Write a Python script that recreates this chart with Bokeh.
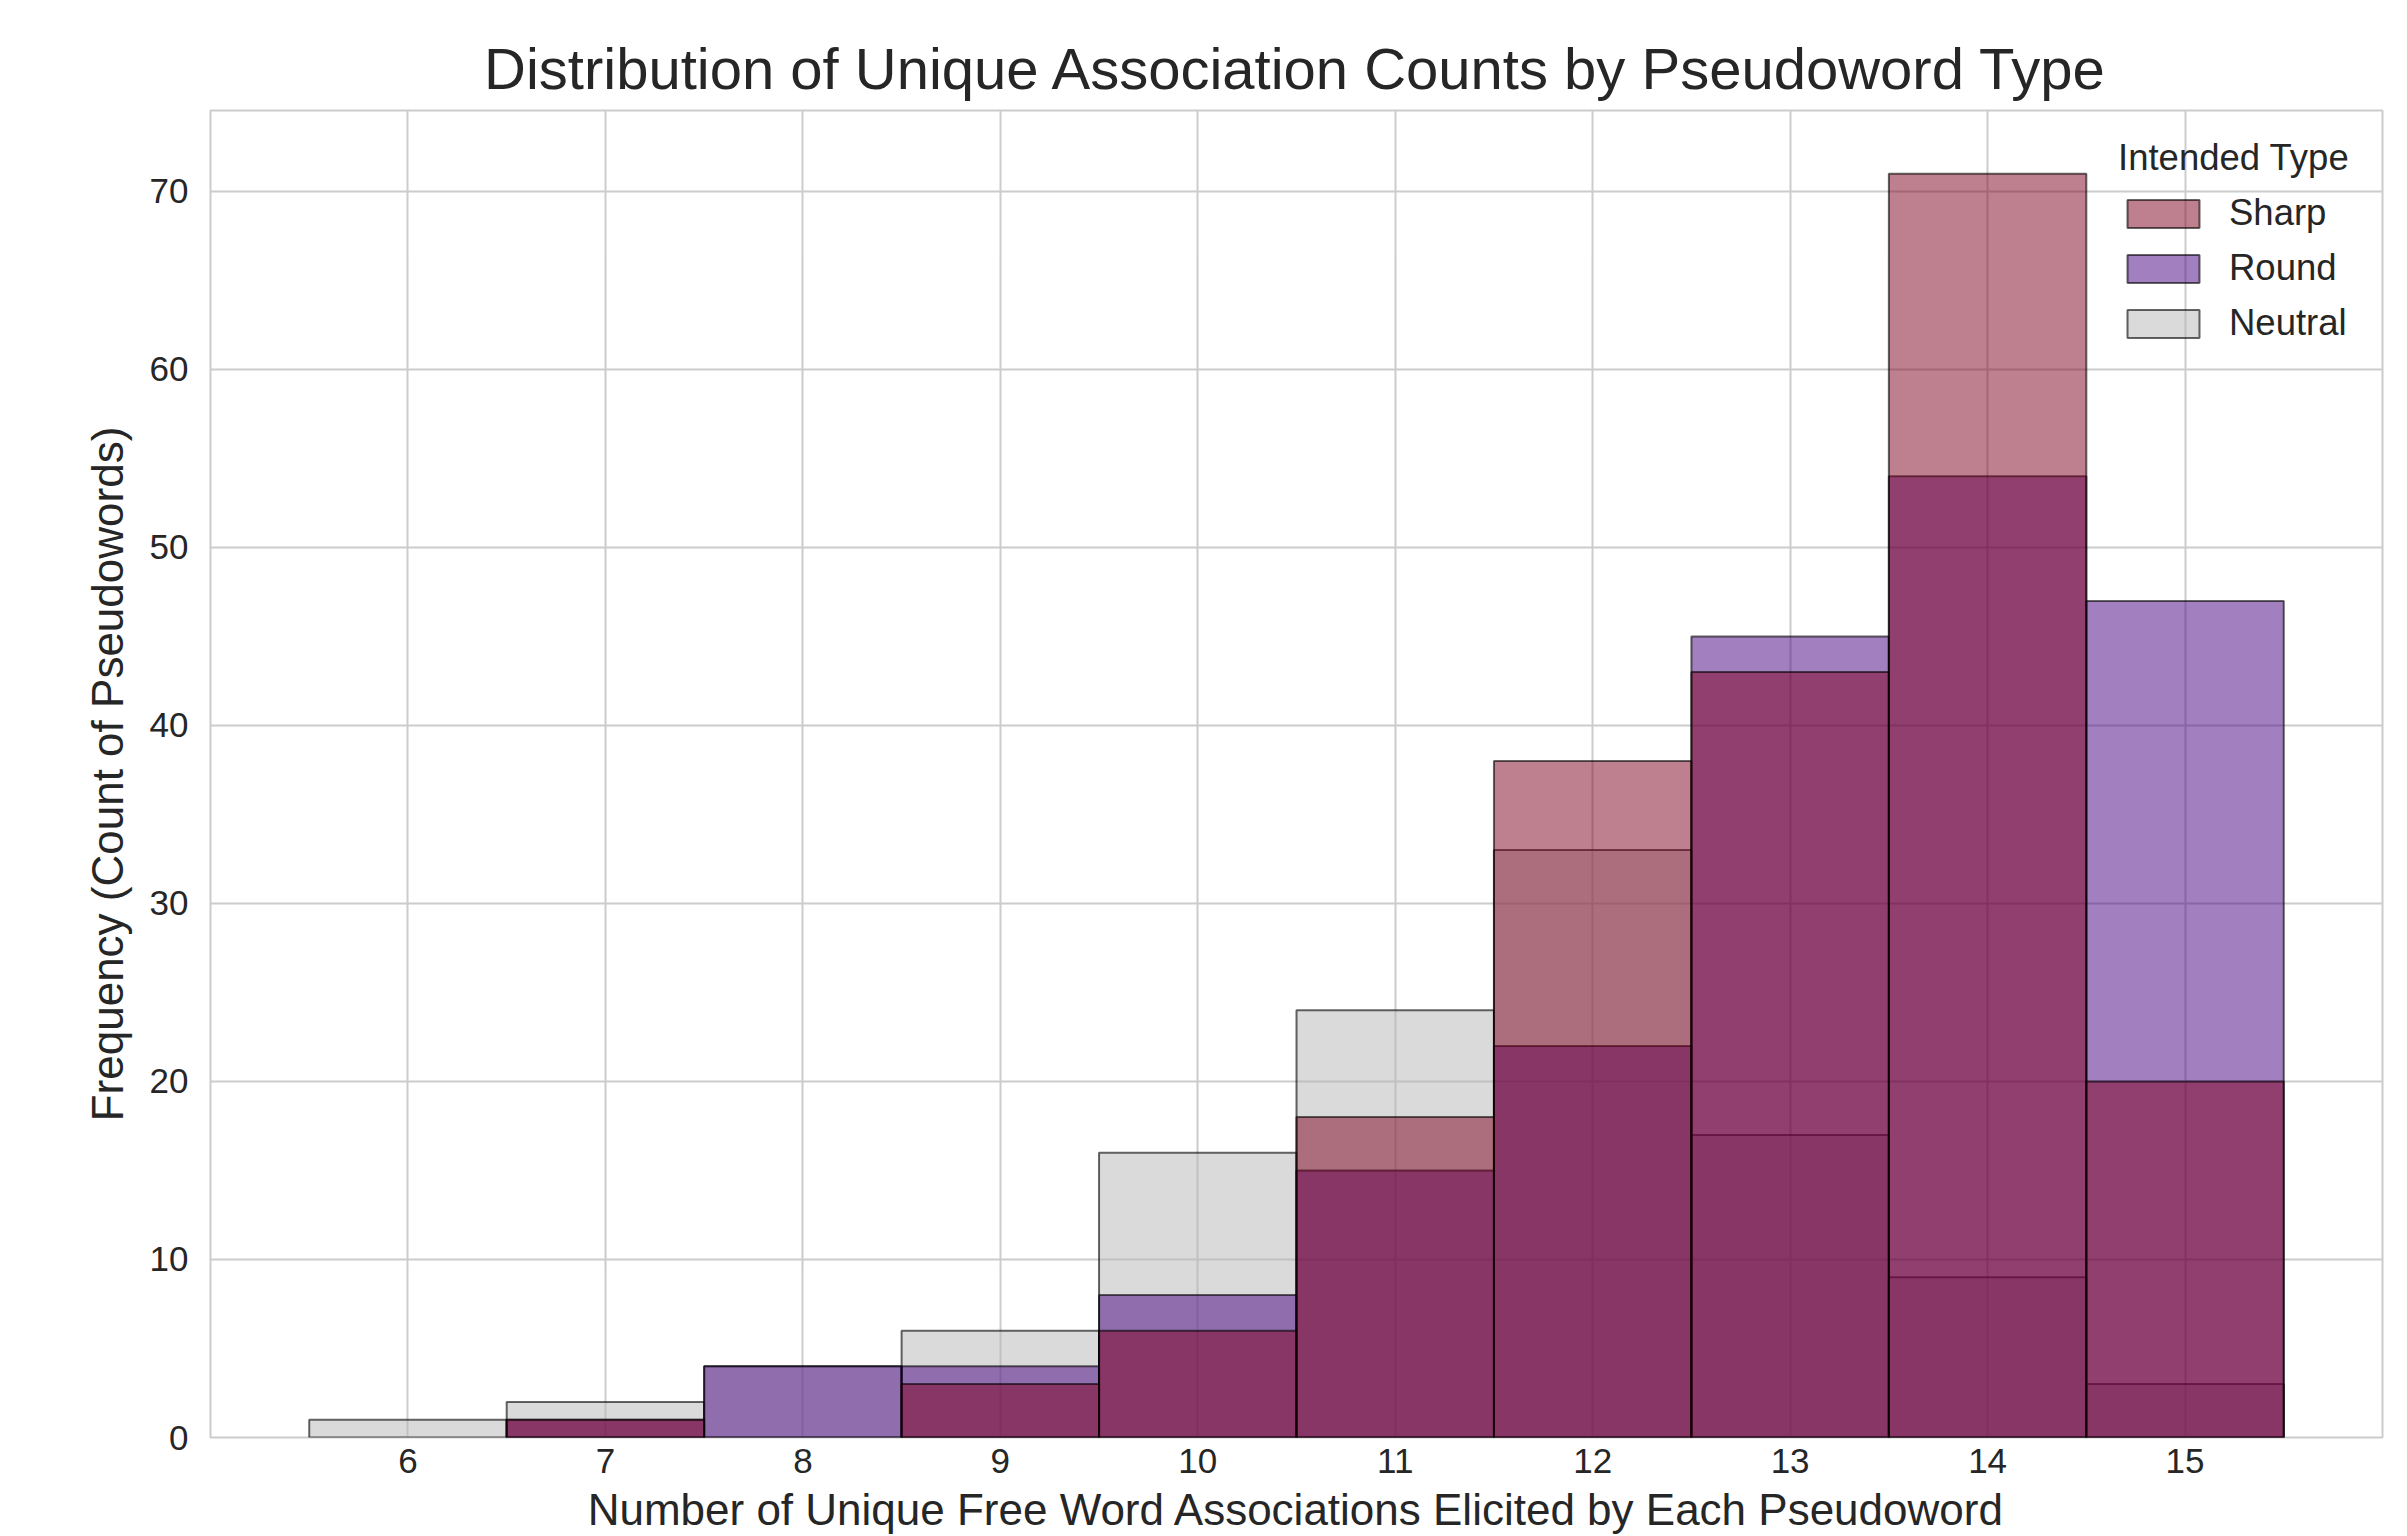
from bokeh.plotting import figure
from bokeh.models import Range1d, FixedTicker, Legend, LegendItem, ColumnDataSource
from bokeh.embed import file_html
from bokeh.resources import INLINE

# ---- data ----
bins = [6, 7, 8, 9, 10, 11, 12, 13, 14, 15]
sharp = [0, 1, 0, 3, 6, 18, 38, 43, 71, 20]
round_ = [0, 1, 4, 4, 8, 15, 22, 45, 54, 47]
neutral = [1, 2, 4, 6, 16, 24, 33, 17, 9, 3]
y_ticks = [0, 10, 20, 30, 40, 50, 60, 70]

title = "Distribution of Unique Association Counts by Pseudoword Type"
x_label = "Number of Unique Free Word Associations Elicited by Each Pseudoword"
y_label = "Frequency (Count of Pseudowords)"
legend_title = "Intended Type"

colors = {"Sharp": "#7e0020", "Round": "#46007d", "Neutral": "#b5b5b5"}
TEXT = "#262626"
FONT = "Liberation Sans"

W, H = 2407, 1536
p = figure(width=W, height=H, output_backend="svg", toolbar_location=None,
           x_range=Range1d(5.0, 16.0), y_range=Range1d(0, 74.55),
           min_border_left=210, min_border_right=25, min_border_top=110,
           min_border_bottom=98)

p.background_fill_color = "white"
p.border_fill_color = "white"
p.outline_line_color = "#cccccc"
p.outline_line_width = 2

p.title.text = title
p.title.text_font = FONT
p.title.text_font_size = "58px"
p.title.text_font_style = "normal"
p.title.text_color = TEXT
p.title.align = "center"
p.title.standoff = 19

for ax in (p.xaxis, p.yaxis):
    ax.axis_line_color = None
    ax.major_tick_line_color = None
    ax.minor_tick_line_color = None
    ax.major_label_text_font = FONT
    ax.major_label_text_font_size = "35px"
    ax.major_label_text_color = TEXT
    ax.axis_label_text_font = FONT
    ax.axis_label_text_font_size = "44px"
    ax.axis_label_text_font_style = "normal"
    ax.axis_label_text_color = TEXT

p.xaxis.ticker = FixedTicker(ticks=bins)
p.yaxis.ticker = FixedTicker(ticks=y_ticks)
p.xaxis.axis_label = x_label
p.yaxis.axis_label = y_label
p.xaxis.major_label_standoff = 5
p.xaxis.axis_label_standoff = 9
p.yaxis.major_label_standoff = 16
p.yaxis.axis_label_standoff = 15

p.xgrid.grid_line_color = "#cccccc"
p.ygrid.grid_line_color = "#cccccc"
p.xgrid.grid_line_width = 2
p.ygrid.grid_line_width = 2

series = {"Sharp": sharp, "Round": round_, "Neutral": neutral}
renderers = {}
for name in ["Neutral", "Round", "Sharp"]:
    vals = series[name]
    keep = [(b, v) for b, v in zip(bins, vals) if v > 0]
    src = ColumnDataSource(dict(
        left=[b - 0.5 for b, v in keep],
        right=[b + 0.5 for b, v in keep],
        top=[v for b, v in keep],
        bottom=[0 for b, v in keep],
    ))
    renderers[name] = p.quad(left="left", right="right", top="top", bottom="bottom",
                             source=src, fill_color=colors[name], fill_alpha=0.5,
                             line_color="black", line_alpha=0.6, line_width=2)

items = [LegendItem(label=n, renderers=[renderers[n]]) for n in ["Sharp", "Round", "Neutral"]]
legend = Legend(items=items, location=(1908, 1086.5), title=legend_title,
                title_text_font=FONT, title_text_font_size="36.5px",
                title_text_font_style="normal", title_text_color=TEXT,
                title_standoff=7,
                label_text_font=FONT, label_text_font_size="36.5px", label_text_color=TEXT,
                glyph_width=90, glyph_height=35, label_height=55, label_standoff=21,
                spacing=0, padding=0, margin=0,
                border_line_color=None, background_fill_alpha=0)
p.add_layout(legend, "center")

open("out.html", "w").write(file_html(p, INLINE))
